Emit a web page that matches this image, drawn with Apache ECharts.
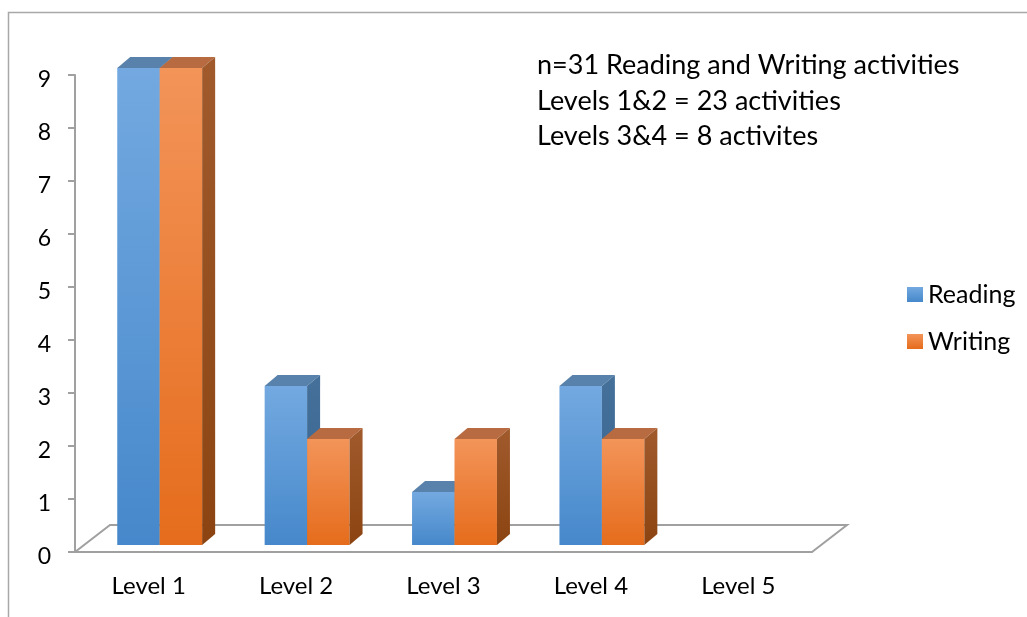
<!DOCTYPE html>
<html>
<head>
<meta charset="utf-8">
<script src="https://cdn.jsdelivr.net/npm/echarts@6/dist/echarts.min.js"></script>
<style>
html,body{margin:0;padding:0;background:#fff;}
#chart{width:1027px;height:617px;}
</style>
</head>
<body>
<div id="chart"></div>
<script>
// ---- data ----
var categories = ['Level 1', 'Level 2', 'Level 3', 'Level 4', 'Level 5'];
var readingValues = [9, 3, 1, 3, 0];
var writingValues = [9, 2, 2, 2, 0];
var seriesNames = ['Reading', 'Writing'];
var yTicks = [0, 1, 2, 3, 4, 5, 6, 7, 8, 9];
var annotationLines = [
  'n=31 Reading and Writing activities',
  'Levels 1&2 = 23 activities',
  'Levels 3&4 = 8 activites'
];

// ---- styles ----
var FONT = 'Lato';
var AXIS_COLOR = '#a0a0a0';
var palette = {
  Reading: {
    front: ['#73a9e0', '#4688cb'],
    top: '#5881ab',
    side: ['#44709a', '#386590']
  },
  Writing: {
    front: ['#f39459', '#e56c1c'],
    top: '#b86b41',
    side: ['#a05a2c', '#8b4411']
  }
};
var FRONT_DX = 11, FRONT_DY = -7;   // bar front face offset inside floor
var DEPTH_DX = 13, DEPTH_DY = -11;  // bar depth
var FLOOR_DX = 35, FLOOR_DY = -27;  // floor depth
var BAR_FRAC = 0.288;               // bar width relative to band

function vgrad(c) {
  return new echarts.graphic.LinearGradient(0, 0, 0, 1, [
    {offset: 0, color: c[0]}, {offset: 1, color: c[1]}
  ]);
}

function makeBarRender(name, slot) {
  var pal = palette[name];
  return function (params, api) {
    var ci = api.value(0), v = api.value(1);
    if (!v) return null;
    var base = api.coord([ci, 0]);
    var top = api.coord([ci, v]);
    var band = api.size([1, 0])[0];
    var bw = band * BAR_FRAC;
    var x0 = base[0] + FRONT_DX + (slot === 0 ? -bw : 0);
    var by = base[1] + FRONT_DY;
    var ty = top[1] + FRONT_DY;
    return {
      type: 'group',
      children: [
        {
          type: 'rect',
          shape: {x: x0, y: ty, width: bw, height: by - ty},
          style: {fill: vgrad(pal.front)}
        },
        {
          type: 'polygon',
          shape: {points: [[x0, ty], [x0 + bw, ty], [x0 + bw + DEPTH_DX, ty + DEPTH_DY], [x0 + DEPTH_DX, ty + DEPTH_DY]]},
          style: {fill: pal.top}
        },
        {
          type: 'polygon',
          shape: {points: [[x0 + bw, ty], [x0 + bw + DEPTH_DX, ty + DEPTH_DY], [x0 + bw + DEPTH_DX, by + DEPTH_DY], [x0 + bw, by]]},
          style: {fill: vgrad(pal.side)}
        }
      ]
    };
  };
}

function floorRender(params, api) {
  var band = api.size([1, 0])[0];
  var first = api.coord([0, 0]);
  var last = api.coord([categories.length - 1, 0]);
  var left = first[0] - band / 2;
  var right = last[0] + band / 2;
  var y = first[1];
  return {
    type: 'polyline',
    shape: {points: [[left, y], [left + FLOOR_DX, y + FLOOR_DY], [right + FLOOR_DX, y + FLOOR_DY], [right, y]]},
    style: {stroke: AXIS_COLOR, lineWidth: 2, fill: null}
  };
}

var chart = echarts.init(document.getElementById('chart'), null, {renderer: 'canvas'});

var option = {
  backgroundColor: '#ffffff',
  animation: false,
  textStyle: {fontFamily: FONT},
  grid: {left: 75, right: 215, top: 75, bottom: 65, containLabel: false},
  xAxis: {
    type: 'category',
    data: categories,
    axisLine: {lineStyle: {color: AXIS_COLOR, width: 2}},
    axisTick: {length: 8, lineStyle: {color: AXIS_COLOR, width: 2}},
    axisLabel: {color: '#000', fontSize: 24, fontFamily: FONT, margin: 22}
  },
  yAxis: {
    type: 'value',
    min: yTicks[0],
    max: yTicks[yTicks.length - 1],
    interval: 1,
    splitLine: {show: false},
    axisLine: {show: true, lineStyle: {color: AXIS_COLOR, width: 2}},
    axisTick: {show: true, length: 7, lineStyle: {color: AXIS_COLOR, width: 2}},
    axisLabel: {
      color: '#000', fontSize: 23, fontFamily: FONT, margin: 24,
      formatter: '{n|{value}}',
      rich: {n: {color: '#000', fontSize: 23, fontFamily: FONT, padding: [9, 0, 0, 0]}}
    }
  },
  legend: {
    orient: 'vertical',
    left: 902,
    top: 277,
    itemWidth: 16,
    itemHeight: 15,
    itemGap: 22,
    icon: 'rect',
    textStyle: {color: '#000', fontSize: 25, fontFamily: FONT},
    data: seriesNames.map(function (n) {
      return {name: n, itemStyle: {color: vgrad(palette[n].front)}};
    })
  },
  graphic: [
    {
      type: 'rect',
      shape: {x: 8.5, y: 12.5, width: 1100, height: 700},
      style: {fill: null, stroke: '#a8a8a8', lineWidth: 1.5},
      silent: true,
      z: -10
    },
    {
      type: 'text',
      left: 537,
      top: 48,
      style: {
        text: annotationLines.join('\n'),
        font: '27px ' + FONT,
        lineHeight: 35.5,
        fill: '#000'
      }
    }
  ],
  series: [
    {
      type: 'custom',
      name: 'floor',
      renderItem: floorRender,
      data: [[0, 0]],
      encode: {x: 0, y: 1},
      silent: true,
      z: 1
    },
    {
      type: 'custom',
      name: seriesNames[0],
      renderItem: makeBarRender(seriesNames[0], 0),
      data: readingValues.map(function (v, i) { return [i, v]; }),
      encode: {x: 0, y: 1},
      itemStyle: {color: palette.Reading.front[1]},
      z: 2
    },
    {
      type: 'custom',
      name: seriesNames[1],
      renderItem: makeBarRender(seriesNames[1], 1),
      data: writingValues.map(function (v, i) { return [i, v]; }),
      encode: {x: 0, y: 1},
      itemStyle: {color: palette.Writing.front[1]},
      z: 2
    }
  ]
};
chart.setOption(option);
</script>
</body>
</html>
